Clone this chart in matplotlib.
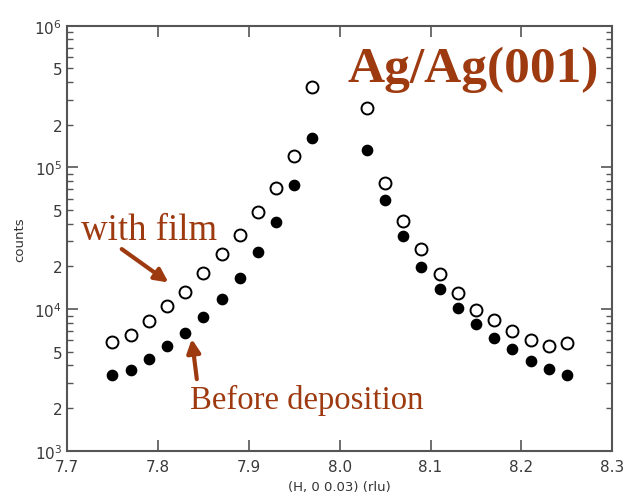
import numpy as np
import matplotlib
matplotlib.use('Agg')
import matplotlib.pyplot as plt
from matplotlib.ticker import LogLocator, FuncFormatter

# open circles: with film
h_film = [7.75, 7.77, 7.79, 7.81, 7.83, 7.85, 7.87, 7.89, 7.91, 7.93, 7.95, 7.97,
          8.03, 8.05, 8.07, 8.09, 8.11, 8.13, 8.15, 8.17, 8.19, 8.21, 8.23, 8.25]
c_film = [5860, 6560, 8280, 10500, 13200, 18100, 24500, 33200, 48400, 71400, 121000, 370000,
          262000, 77100, 41900, 26500, 17600, 12900, 9890, 8320, 7030, 6050, 5520, 5730]

# filled circles: before deposition
h_before = h_film
c_before = [3430, 3740, 4440, 5490, 6740, 8830, 11800, 16500, 25100, 41200, 74700, 160000,
            132000, 59200, 32800, 19950, 13800, 10200, 7870, 6280, 5230, 4300, 3780, 3440]

brown = '#9e3a10'
axc = '#555555'

fig = plt.figure(figsize=(6.27, 5.02), dpi=100)
ax = fig.add_axes([0.1069, 0.1002, 0.8697, 0.8466])

ax.plot(h_film, c_film, 'o', mfc='white', mec='black', mew=1.4, ms=8.6, ls='none')
ax.plot(h_before, c_before, 'o', mfc='black', mec='black', ms=7.4, ls='none')

ax.set_yscale('log')
ax.set_xlim(7.7, 8.3)
ax.set_ylim(1e3, 1e6)
ax.set_xticks([7.7, 7.8, 7.9, 8.0, 8.1, 8.2, 8.3])
ax.set_xticklabels(['7.7', '7.8', '7.9', '8.0', '8.1', '8.2', '8.3'])

ax.yaxis.set_major_locator(LogLocator(base=10, numticks=10))
ax.yaxis.set_minor_locator(LogLocator(base=10, subs=np.arange(2, 10), numticks=20))


def major_fmt(v, pos):
    return r'$10^{%d}$' % int(round(np.log10(v)))


def minor_fmt(v, pos):
    m = v / 10 ** np.floor(np.log10(v) + 1e-9)
    m = int(round(m))
    return str(m) if m in (2, 5) else ''


ax.yaxis.set_major_formatter(FuncFormatter(major_fmt))
ax.yaxis.set_minor_formatter(FuncFormatter(minor_fmt))

for s in ax.spines.values():
    s.set_color(axc)
    s.set_linewidth(1.5)
ax.tick_params(which='both', direction='in', top=True, right=True, colors=axc,
               labelcolor='#3a3a3a', labelsize=11)
ax.tick_params(which='major', length=8, width=1.2)
ax.tick_params(which='minor', length=4, width=1.0)
ax.tick_params(axis='x', pad=6)

ax.set_xlabel('(H, 0 0.03) (rlu)', fontsize=9.5, color='#333333', labelpad=4)
ax.set_ylabel('counts', fontsize=9.5, color='#333333', labelpad=6)

ax.text(0.975, 0.870, 'Ag/Ag(001)', transform=ax.transAxes, ha='right', va='baseline',
        family='Liberation Serif', fontweight='bold', fontsize=37, color=brown)
ax.text(7.7150, 3.1e4, 'with film', ha='left', va='baseline',
        family='Liberation Serif', fontsize=26.5, color=brown)
ax.text(7.8355, 2.01e3, 'Before deposition', ha='left', va='baseline',
        family='Liberation Serif', fontsize=23.6, color=brown)

ax.annotate('', xy=(7.8116, 1.54e4), xytext=(7.7602, 2.65e4),
            arrowprops=dict(arrowstyle='-|>', color=brown, lw=3, mutation_scale=20,
                            shrinkA=0, shrinkB=0))
ax.annotate('', xy=(7.8373, 6.15e3), xytext=(7.8428, 3.2e3),
            arrowprops=dict(arrowstyle='-|>', color=brown, lw=3, mutation_scale=20,
                            shrinkA=0, shrinkB=0))

fig.savefig('out.png', dpi=100)
